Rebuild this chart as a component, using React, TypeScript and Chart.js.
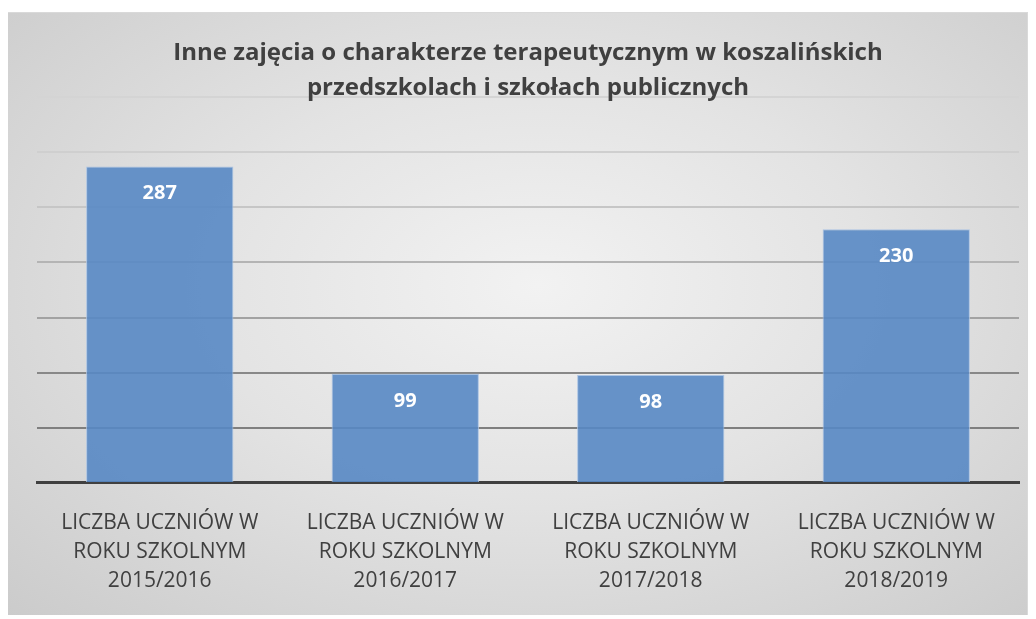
import React, { useEffect, useRef } from "react";
import { Chart, registerables } from "chart.js";

Chart.register(...registerables);

const titleLines = [
  "Inne zajęcia o charakterze terapeutycznym w koszalińskich",
  "przedszkolach i szkołach publicznych",
];
const categories: string[][] = [
  ["LICZBA UCZNIÓW W", "ROKU SZKOLNYM", "2015/2016"],
  ["LICZBA UCZNIÓW W", "ROKU SZKOLNYM", "2016/2017"],
  ["LICZBA UCZNIÓW W", "ROKU SZKOLNYM", "2017/2018"],
  ["LICZBA UCZNIÓW W", "ROKU SZKOLNYM", "2018/2019"],
];
const values = [287, 99, 98, 230];
const yMin = 0;
const yMax = 350;
const yStep = 50;

const gridColors = ["#404040", "#7f7f7f", "#888888", "#a2a2a2", "#b4b4b4", "#c6c6c6", "#cfcfcf", "#d4d4d4"];

const valueLabels = {
  id: "valueLabels",
  afterDatasetsDraw(chart: any) {
    const ctx = chart.ctx;
    const meta = chart.getDatasetMeta(0);
    ctx.save();
    ctx.fillStyle = "#ffffff";
    ctx.font = "bold 20px 'Open Sans'";
    ctx.textAlign = "center";
    ctx.textBaseline = "middle";
    meta.data.forEach((el: any, i: number) => {
      ctx.fillText(String(values[i]), el.x, el.y + 27);
    });
    ctx.restore();
  },
};

export default function App() {
  const ref = useRef<HTMLCanvasElement | null>(null);
  useEffect(() => {
    if (!ref.current) return;
    const chart = new Chart(ref.current, {
      type: "bar",
      data: {
        labels: categories,
        datasets: [
          {
            data: values,
            backgroundColor: "rgba(88,136,196,0.9)",
            borderColor: "rgba(170,195,228,0.95)",
            borderWidth: 1,
            barPercentage: 0.6,
            categoryPercentage: 1,
          },
        ],
      },
      options: {
        animation: false,
        responsive: true,
        maintainAspectRatio: false,
        layout: { padding: { left: 29, right: 8, top: 0, bottom: -4 } },
        plugins: {
          legend: { display: false },
          tooltip: { enabled: false },
          title: {
            display: true,
            text: titleLines,
            fullSize: false,
            color: "#404040",
            font: { family: "'Open Sans'", size: 24, weight: "bold", lineHeight: 1.458 },
            padding: { top: 23, bottom: -9 },
          },
        },
        scales: {
          x: {
            z: 1,
            grid: { display: false, drawTicks: false },
            border: { display: true, color: "#404040", width: 3 },
            ticks: {
              color: "#404040",
              padding: 26,
              maxRotation: 0,
              autoSkip: false,
              font: { family: "'Open Sans'", size: 21, lineHeight: 1.381 },
            },
          },
          y: {
            min: yMin,
            max: yMax,
            ticks: { display: false, stepSize: yStep },
            border: { display: false },
            grid: {
              drawTicks: false,
              lineWidth: 2,
              color: (c: any) => gridColors[c.index] ?? "#d0d0d0",
            },
          },
        },
      },
      plugins: [valueLabels],
    });
    return () => chart.destroy();
  }, []);

  return (
    <div
      style={{
        position: "relative",
        left: -1,
        top: 4,
        width: 1021,
        height: 607,
        boxSizing: "border-box",
        border: "1px solid #d9d9d9",
        background: "radial-gradient(ellipse at 52% 45%, #f2f2f2 0%, #e3e3e3 45%, #cbcbcb 100%)",
      }}
    >
      <canvas ref={ref} />
    </div>
  );
}
